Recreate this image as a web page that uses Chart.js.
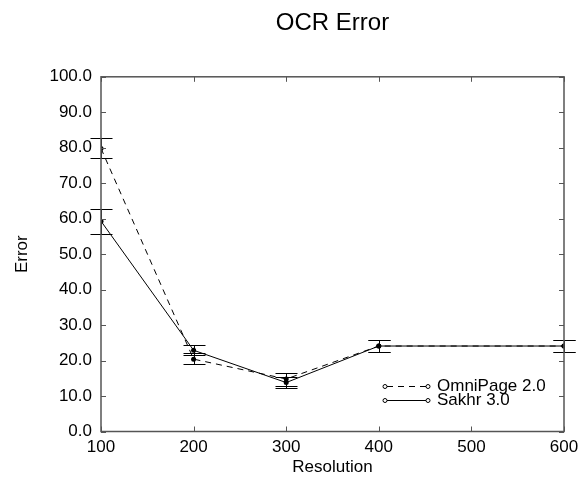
<!DOCTYPE html>
<html>
<head>
<meta charset="utf-8">
<script src="https://cdn.jsdelivr.net/npm/chart.js@4.4.1/dist/chart.umd.min.js"></script>
<style>
  html, body { margin: 0; padding: 0; background: #fff; }
  canvas { display: block; }
</style>
</head>
<body>
<canvas id="ocrChart" width="579" height="479"></canvas>
<script>
// values
const resolutions = [100, 200, 300, 400, 600];

const omniPage = [79.8, 20.4, 14.8, 24.1, 24.1];
const omniLow = [77.1, 19.1, 12.9, 22.3, 22.3];
const omniHigh = [82.7, 22.0, 16.5, 25.8, 25.8];

const sakhr = [59.3, 22.9, 13.8, 24.1, 24.1];
const sakhrLow = [55.8, 21.6, 12.3, 22.3, 22.3];
const sakhrHigh = [62.8, 24.5, 15.3, 25.8, 25.8];

const xTicks = [100, 200, 300, 400, 500, 600];
const FONT = 'Liberation Sans, Arial, sans-serif';

function points(ys) {
    return resolutions.map((x, i) => ({ x: x, y: ys[i] }));
}

const errorBars = {
    id: 'errorBars',
    afterDatasetsDraw(chart) {
        const ctx = chart.ctx;
        const xs = chart.scales.x, ys = chart.scales.y;
        const sets = [[omniLow, omniHigh], [sakhrLow, sakhrHigh]];
        ctx.save();
        ctx.strokeStyle = '#000';
        ctx.lineWidth = 1;
        sets.forEach(([lo, hi]) => {
            resolutions.forEach((r, i) => {
                const px = Math.round(xs.getPixelForValue(r)) + 0.5;
                const yl = Math.round(ys.getPixelForValue(lo[i])) + 0.5;
                const yh = Math.round(ys.getPixelForValue(hi[i])) + 0.5;
                ctx.beginPath();
                ctx.moveTo(px, yl); ctx.lineTo(px, yh);
                ctx.moveTo(px - 11, yl); ctx.lineTo(px + 11, yl);
                ctx.moveTo(px - 11, yh); ctx.lineTo(px + 11, yh);
                ctx.stroke();
            });
        });
        ctx.restore();
    },
    afterDraw(chart) {
        const ctx = chart.ctx;
        const a = chart.chartArea;
        const xs = chart.scales.x, ys = chart.scales.y;
        ctx.save();
        // frame
        ctx.strokeStyle = '#555';
        ctx.lineWidth = 1.5;
        ctx.strokeRect(a.left, a.top, a.right - a.left, a.bottom - a.top);
        // inward ticks
        ctx.lineWidth = 1;
        ctx.beginPath();
        xTicks.forEach(v => {
            const px = Math.round(xs.getPixelForValue(v)) + 0.5;
            ctx.moveTo(px, a.bottom); ctx.lineTo(px, a.bottom - 5);
            ctx.moveTo(px, a.top); ctx.lineTo(px, a.top + 5);
        });
        ys.ticks.forEach(t => {
            const py = Math.round(ys.getPixelForValue(t.value)) + 0.5;
            ctx.moveTo(a.left, py); ctx.lineTo(a.left + 5, py);
            ctx.moveTo(a.right, py); ctx.lineTo(a.right - 5, py);
        });
        ctx.stroke();

        // legend
        ctx.font = '17px ' + FONT;
        ctx.textBaseline = 'middle';
        ctx.fillStyle = '#000';
        chart.data.datasets.forEach((ds, i) => {
            const y = 386 + i * 14 + 0.5;
            ctx.strokeStyle = '#000';
            ctx.lineWidth = 1;
            ctx.setLineDash(ds.borderDash || []);
            ctx.beginPath();
            ctx.moveTo(387, y); ctx.lineTo(426, y);
            ctx.stroke();
            ctx.setLineDash([]);
            [385, 428].forEach(cx => {
                ctx.beginPath();
                ctx.arc(cx, y, 2, 0, Math.PI * 2);
                ctx.fillStyle = '#fff';
                ctx.fill();
                ctx.stroke();
            });
            ctx.fillStyle = '#000';
            ctx.fillText(ds.label, 437, y);
        });
        ctx.restore();
    }
};

new Chart(document.getElementById('ocrChart').getContext('2d'), {
    type: 'line',
    data: {
        datasets: [{
            label: 'OmniPage 2.0',
            data: points(omniPage),
            borderColor: '#000',
            borderWidth: 1,
            borderDash: [6, 5],
            pointRadius: 2.5,
            pointBackgroundColor: '#000',
            pointBorderWidth: 0,
            tension: 0
        }, {
            label: 'Sakhr 3.0',
            data: points(sakhr),
            borderColor: '#000',
            borderWidth: 1,
            pointRadius: 2.5,
            pointBackgroundColor: '#000',
            pointBorderWidth: 0,
            tension: 0
        }]
    },
    options: {
        responsive: false,
        animation: false,
        devicePixelRatio: 1,
        layout: { padding: { left: 0, right: 15, top: 0, bottom: 0 } },
        plugins: {
            legend: { display: false },
            tooltip: { enabled: false },
            title: {
                display: true,
                text: 'OCR Error',
                color: '#000',
                fullSize: false,
                font: { family: FONT, size: 24, weight: 'normal' },
                padding: { top: 9, bottom: 39 }
            }
        },
        scales: {
            x: {
                type: 'linear',
                min: 100,
                max: 600,
                afterFit: s => { s.height = 47.5; s.paddingLeft = 0; s.paddingRight = 0; },
                afterBuildTicks: s => { s.ticks = xTicks.map(v => ({ value: v })); },
                grid: { display: false, drawTicks: false },
                border: { display: false },
                ticks: {
                    color: '#000',
                    padding: 6,
                    maxRotation: 0,
                    font: { family: FONT, size: 17 },
                    callback: v => String(v)
                },
                title: {
                    display: true,
                    text: 'Resolution',
                    color: '#000',
                    font: { family: FONT, size: 17 },
                    padding: { top: 0, bottom: 1 }
                }
            },
            y: {
                min: 0,
                max: 100,
                afterFit: s => { s.width = 101; },
                grid: { display: false, drawTicks: false },
                border: { display: false },
                ticks: {
                    stepSize: 5,
                    color: '#000',
                    padding: 9,
                    font: { family: FONT, size: 17 },
                    callback: v => (v % 10 === 0 ? v.toFixed(1) : '')
                },
                title: {
                    display: true,
                    text: 'Error',
                    color: '#000',
                    font: { family: FONT, size: 17 },
                    padding: { top: 12, bottom: 0 }
                }
            }
        }
    },
    plugins: [errorBars]
});
</script>
</body>
</html>
